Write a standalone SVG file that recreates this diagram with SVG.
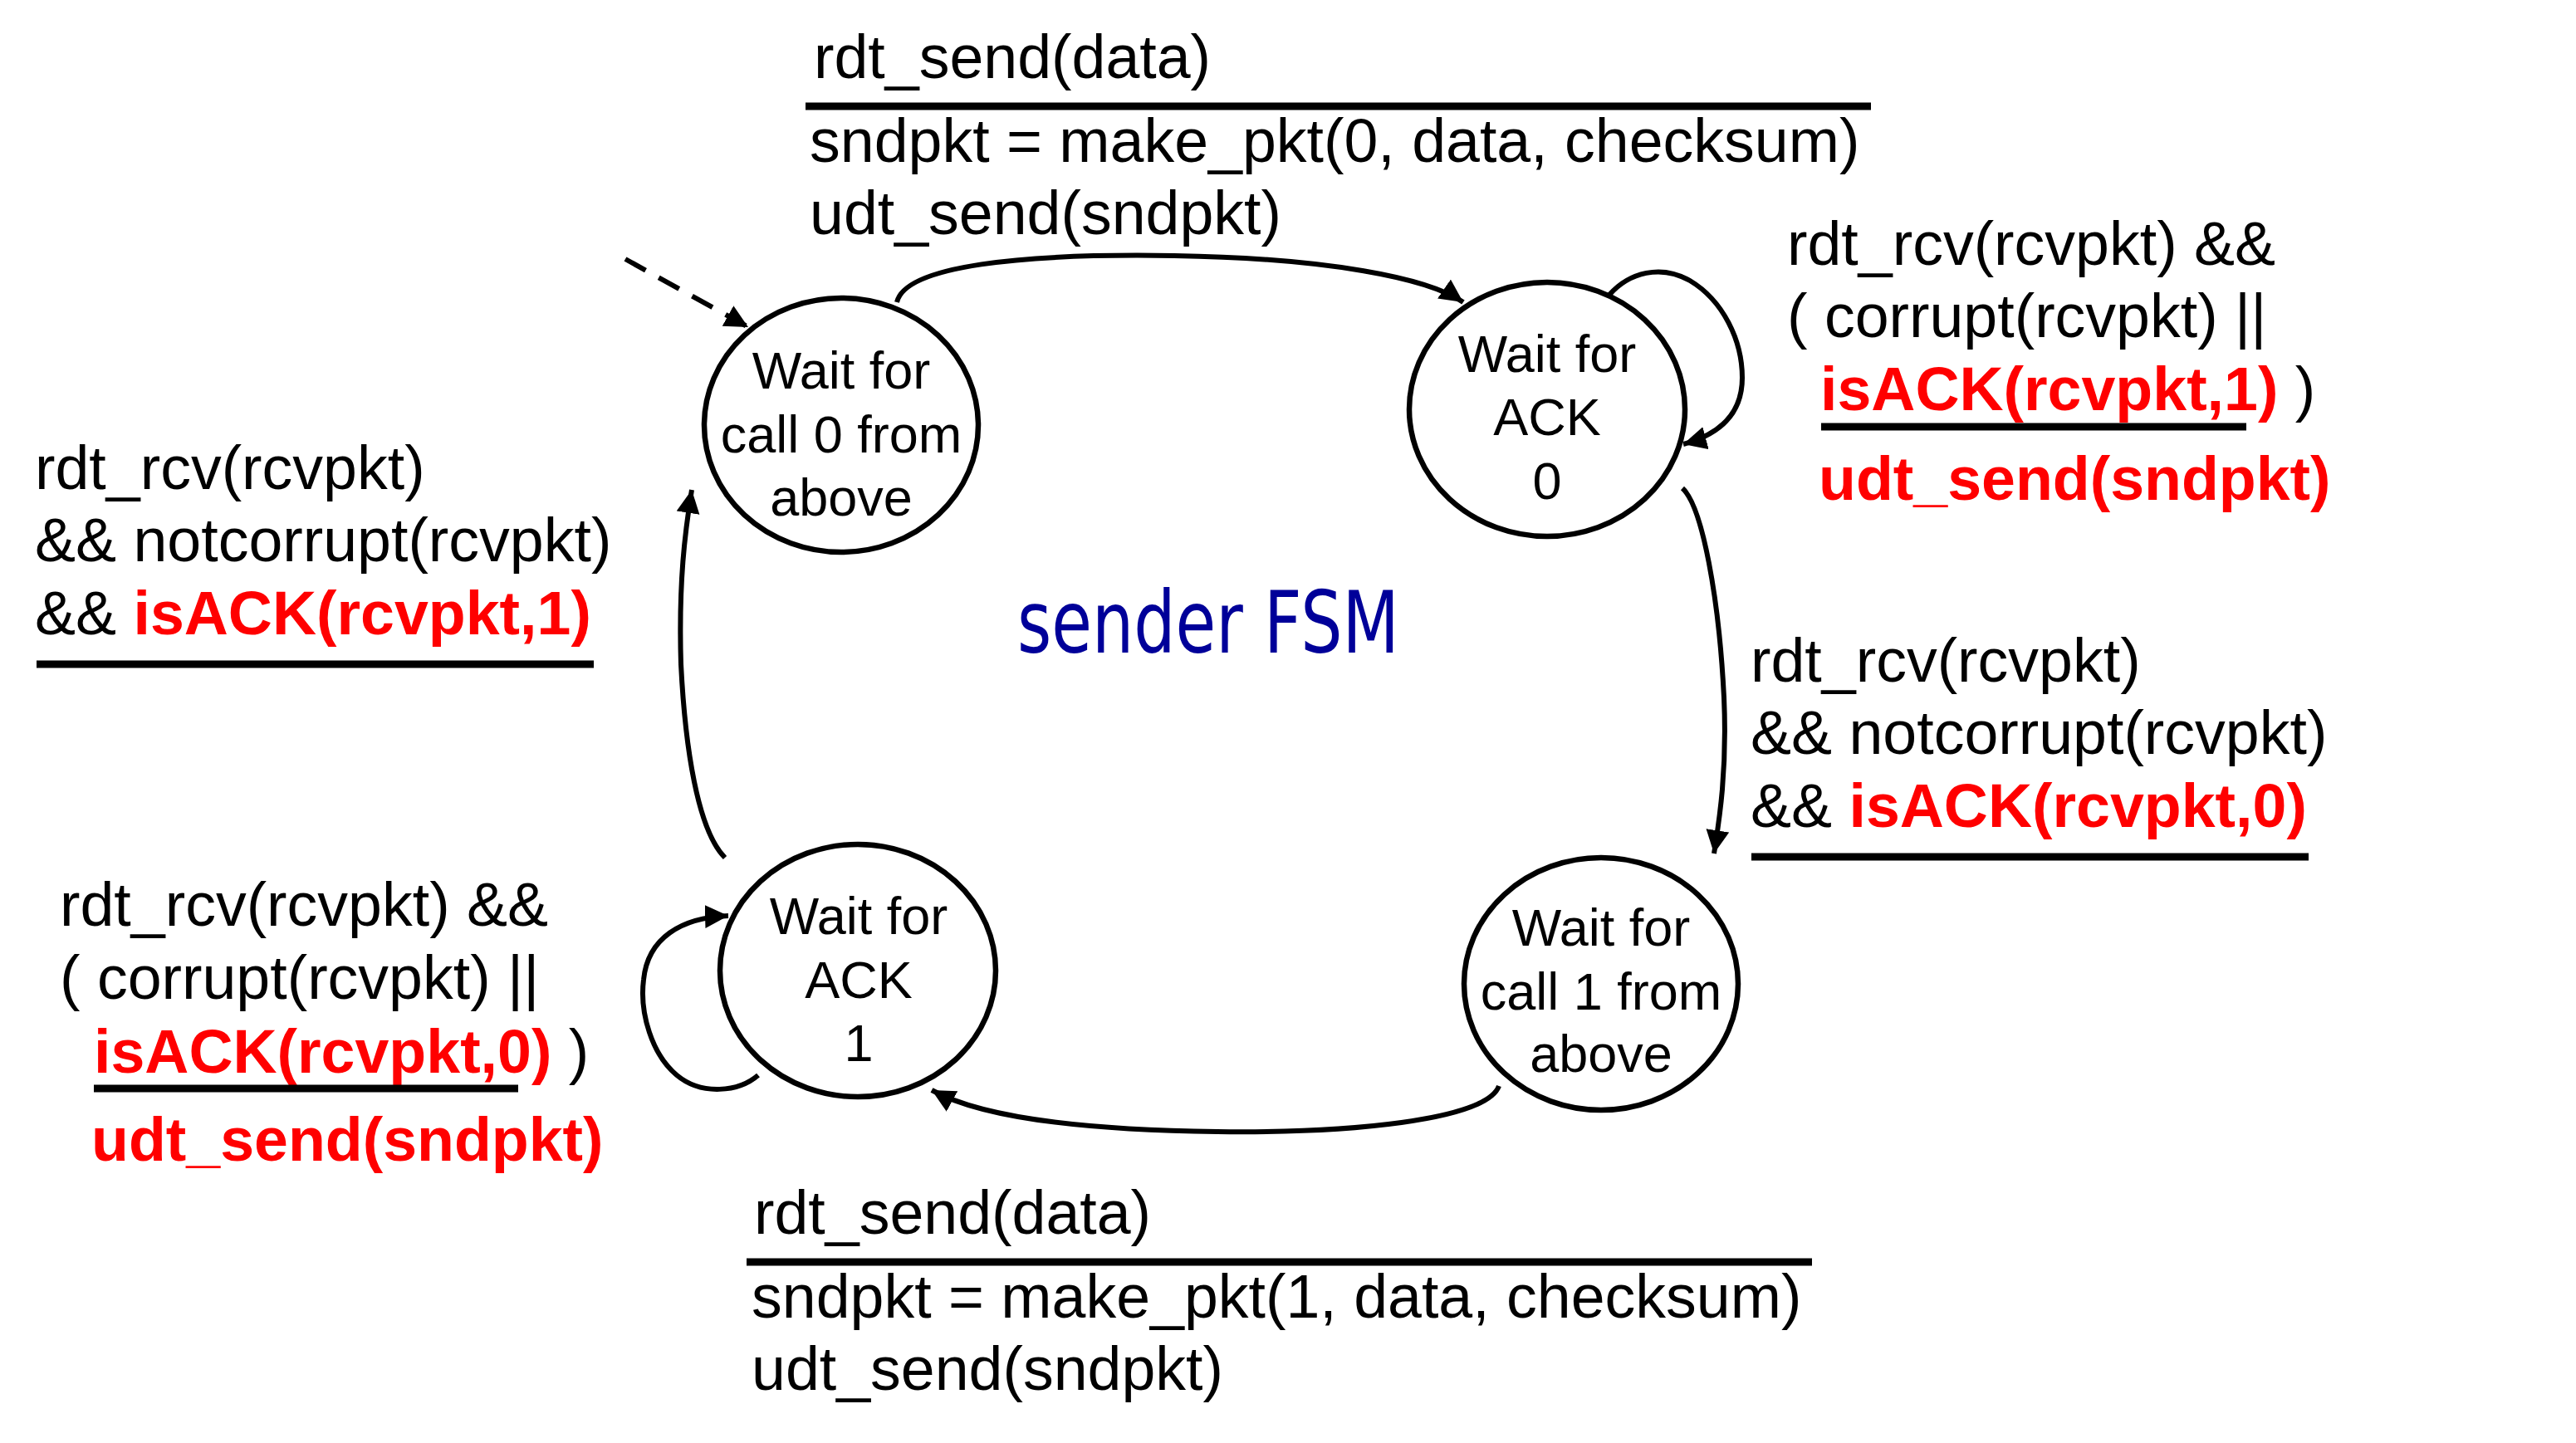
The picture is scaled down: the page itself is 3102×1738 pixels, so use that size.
<svg xmlns="http://www.w3.org/2000/svg" width="3102" height="1738" viewBox="0 0 3102 1738">
<style>
.node{fill:#fff;stroke:#000;stroke-width:6.5}
.ntxt{font-family:"Liberation Sans",Arial,sans-serif;font-size:63px;fill:#000;text-anchor:middle}
.lbl{font-family:"Liberation Sans",Arial,sans-serif;font-size:73.5px;fill:#000}
.red{font-weight:bold;fill:#ff0000}
.conn{fill:none;stroke:#000;stroke-width:6}
.dash{fill:none;stroke:#000;stroke-width:6;stroke-dasharray:28,18}
.bar{stroke:#000;stroke-width:9}
.title{font-family:"DejaVu Sans","Liberation Sans",sans-serif;font-size:104px;fill:#000099}
</style>
<defs>
<marker id="arr" markerUnits="userSpaceOnUse" markerWidth="30" markerHeight="30" refX="28" refY="14" orient="auto">
<path d="M0,0 L28,14 L0,28 z" fill="#000"/>
</marker>
</defs>
<rect width="3102" height="1738" fill="#fff"/>

<g id="connectors">
<line class="dash" x1="753" y1="312" x2="901" y2="394" marker-end="url(#arr)"/>
<path class="conn" d="M1080,364 C1090,320 1230,305 1414,308 C1600,311 1720,335 1762,364" marker-end="url(#arr)"/>
<path class="conn" d="M1938,355 C1962,328 2000,318 2035,338 C2075,362 2098,410 2098,455 C2098,495 2075,522 2027,535" marker-end="url(#arr)"/>
<path class="conn" d="M2026,588 C2050,610 2070,720 2076,840 C2080,930 2070,990 2064,1028" marker-end="url(#arr)"/>
<path class="conn" d="M1805,1308 C1790,1350 1620,1365 1466,1363 C1300,1361 1180,1345 1122,1313" marker-end="url(#arr)"/>
<path class="conn" d="M913,1295 C890,1315 845,1320 815,1295 C785,1270 770,1220 775,1180 C780,1130 820,1105 877,1103" marker-end="url(#arr)"/>
<path class="conn" d="M873,1033 C840,1000 825,900 820,800 C817,700 825,640 833,590" marker-end="url(#arr)"/>
</g>

<g id="wait_call0">
<ellipse class="node" cx="1013" cy="512" rx="165" ry="153"/>
<text class="ntxt" x="1013" y="468">Wait for</text>
<text class="ntxt" x="1013" y="545">call 0 from</text>
<text class="ntxt" x="1013" y="621">above</text>
</g>
<g id="wait_ack0">
<ellipse class="node" cx="1863" cy="493" rx="166" ry="153"/>
<text class="ntxt" x="1863" y="448">Wait for</text>
<text class="ntxt" x="1863" y="524">ACK</text>
<text class="ntxt" x="1863" y="601">0</text>
</g>
<g id="wait_ack1">
<ellipse class="node" cx="1033" cy="1169" rx="166" ry="152"/>
<text class="ntxt" x="1034" y="1125">Wait for</text>
<text class="ntxt" x="1034" y="1202">ACK</text>
<text class="ntxt" x="1034" y="1278">1</text>
</g>
<g id="wait_call1">
<ellipse class="node" cx="1928" cy="1185" rx="165" ry="152"/>
<text class="ntxt" x="1928" y="1139">Wait for</text>
<text class="ntxt" x="1928" y="1216">call 1 from</text>
<text class="ntxt" x="1928" y="1291">above</text>
</g>

<g id="label_top">
<text class="lbl" x="980" y="94">rdt_send(data)</text>
<line class="bar" x1="970" y1="128" x2="2253" y2="128"/>
<text class="lbl" x="975" y="195">sndpkt = make_pkt(0, data, checksum)</text>
<text class="lbl" x="975" y="282">udt_send(sndpkt)</text>
</g>
<g id="label_ack0_loop">
<text class="lbl" x="2152" y="319">rdt_rcv(rcvpkt) &amp;&amp;</text>
<text class="lbl" x="2152" y="406">( corrupt(rcvpkt) ||</text>
<text class="lbl" x="2192" y="494"><tspan class="red">isACK(rcvpkt,1)</tspan> )</text>
<line class="bar" x1="2193" y1="514" x2="2705" y2="514"/>
<text class="lbl red" x="2190" y="602">udt_send(sndpkt)</text>
</g>
<g id="label_ack0_call1">
<text class="lbl" x="2108" y="821">rdt_rcv(rcvpkt)</text>
<text class="lbl" x="2108" y="908">&amp;&amp; notcorrupt(rcvpkt)</text>
<text class="lbl" x="2108" y="996">&amp;&amp; <tspan class="red">isACK(rcvpkt,0)</tspan></text>
<line class="bar" x1="2109" y1="1032" x2="2780" y2="1032"/>
</g>
<g id="label_bottom">
<text class="lbl" x="908" y="1486">rdt_send(data)</text>
<line class="bar" x1="899" y1="1520" x2="2182" y2="1520"/>
<text class="lbl" x="905" y="1587">sndpkt = make_pkt(1, data, checksum)</text>
<text class="lbl" x="905" y="1674">udt_send(sndpkt)</text>
</g>
<g id="label_ack1_loop">
<text class="lbl" x="72" y="1115">rdt_rcv(rcvpkt) &amp;&amp;</text>
<text class="lbl" x="72" y="1203">( corrupt(rcvpkt) ||</text>
<text class="lbl" x="113" y="1292"><tspan class="red">isACK(rcvpkt,0)</tspan> )</text>
<line class="bar" x1="113" y1="1311" x2="624" y2="1311"/>
<text class="lbl red" x="110" y="1398">udt_send(sndpkt)</text>
</g>
<g id="label_ack1_call0">
<text class="lbl" x="42" y="589">rdt_rcv(rcvpkt)</text>
<text class="lbl" x="42" y="676">&amp;&amp; notcorrupt(rcvpkt)</text>
<text class="lbl" x="42" y="764">&amp;&amp; <tspan class="red">isACK(rcvpkt,1)</tspan></text>
<line class="bar" x1="44" y1="800" x2="715" y2="800"/>
</g>
<text class="title" x="1225" y="786" textLength="460" lengthAdjust="spacingAndGlyphs">sender FSM</text>
</svg>
